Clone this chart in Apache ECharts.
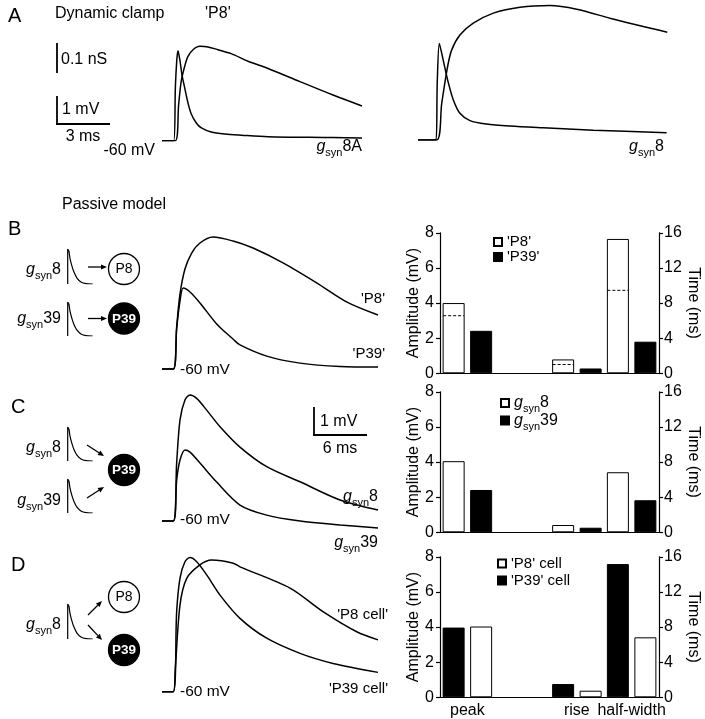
<!DOCTYPE html>
<html><head><meta charset="utf-8">
<script src="https://cdn.jsdelivr.net/npm/echarts@6/dist/echarts.min.js"></script>
<style>html,body{margin:0;padding:0;background:#fff}#c{width:705px;height:719px}</style>
</head><body><div id="c"></div>
<script>
// ===================== DATA =====================
// Panel A (dynamic clamp) — [time ms, value]; V in mV above -60 mV, G in nS
const aLeftV  = [[0,0],[0.77,0],[0.96,1.29],[1.11,2.13],[1.31,2.66],[1.50,3.01],[1.79,3.25],[2.18,3.37],[2.65,3.35],[3.23,3.25],[3.99,3.11],[4.96,2.84],[6.12,2.58],[7.96,2.11],[9.87,1.63],[11.54,1.24]];
const aLeftG  = [[0,0],[0.68,0],[0.77,0.182],[0.85,0.275],[0.92,0.310],[1.04,0.275],[1.15,0.228],[1.31,0.182],[1.50,0.130],[1.69,0.092],[1.98,0.061],[2.27,0.044],[2.84,0.030],[3.62,0.023],[4.58,0.019],[6.12,0.014],[9.87,0.011],[11.54,0.009]];
const aRightV = [[0,0],[1.08,0],[1.37,1.31],[1.69,2.56],[1.94,3.21],[2.42,3.75],[3.19,4.17],[4.35,4.53],[5.89,4.74],[7.62,4.80],[9.16,4.67],[11.08,4.35],[13.0,4.05],[14.39,3.85]];
const aRightG = [[0,0],[1.04,0],[1.11,0.196],[1.23,0.333],[1.37,0.299],[1.56,0.247],[1.75,0.198],[2.04,0.138],[2.42,0.092],[3.0,0.067],[3.96,0.055],[5.31,0.048],[7.23,0.042],[10.12,0.034],[14.35,0.025]];
// Panels B-D passive model traces — [time ms, mV above -60 mV]
const bP8  = [[0,0],[1.28,0],[1.66,1.50],[2.04,2.68],[2.60,3.57],[3.36,4.14],[4.30,4.50],[5.78,4.71],[8.04,4.57],[10.31,4.32],[13.70,3.79],[17.55,3.07],[20.95,2.39],[24.46,1.93]];
const bP39 = [[0,0],[1.28,0],[1.66,1.43],[2.04,2.43],[2.41,2.89],[3.17,2.75],[4.30,2.36],[6.19,1.61],[8.04,1.07],[8.83,0.86],[11.86,0.46],[15.63,0.21],[20.16,0.09],[24.46,0.07]];
const cG8  = [[0,0],[1.28,0],[1.66,2.07],[2.04,3.61],[2.60,4.32],[3.17,4.50],[3.93,4.38],[5.06,3.96],[6.57,3.37],[8.83,2.64],[11.86,1.94],[15.63,1.40],[20.16,0.75],[24.46,0.39]];
const cG39 = [[0,0],[1.28,0],[1.66,1.46],[2.04,2.18],[2.60,2.54],[3.17,2.46],[4.30,2.07],[6.19,1.39],[8.83,0.57],[11.86,0.21],[15.63,0],[20.16,-0.14],[24.46,-0.25]];
const dP8cell  = [[0,0],[1.28,0],[1.50,0.8],[2.04,3.10],[2.80,4.05],[4.30,4.53],[5.63,4.70],[8.07,4.59],[8.83,4.46],[14.50,3.70],[18.23,2.86],[22.05,2.14],[24.46,1.85]];
const dP39cell = [[0,0],[1.28,0],[1.66,2.86],[2.04,4.06],[2.60,4.64],[3.17,4.79],[3.93,4.64],[5.06,4.17],[6.57,3.45],[8.83,2.62],[11.86,1.91],[15.63,1.37],[19.37,1.01],[24.46,0.69]];
// Schematic conductance waveform (normalised time, normalised g)
const iconTrace = [[0,0],[0,1],[0.05,0.94],[0.09,0.74],[0.17,0.51],[0.25,0.34],[0.37,0.17],[0.53,0.06],[0.73,0.01],[1,0]];
// Bar charts
const barCats = ['peak','','rise','half-width'];
const ampTicks = [0,2,4,6,8];
const timeTicks = [0,4,8,12,16];
// B: 'P8' (white) / 'P39' (black)
const bAmpWhite = [4.0,'-','-','-'],   bAmpBlack = [2.42,'-','-','-'];
const bTimeWhite = ['-','-',1.58,15.3], bTimeBlack = ['-','-',0.55,3.6];
const bDashAmp = [[0,3.28]], bDashTime = [[2,1.0],[3,9.45]];
// C: gsyn8 (white) / gsyn39 (black)
const cAmpWhite = [4.05,'-','-','-'],  cAmpBlack = [2.41,'-','-','-'];
const cTimeWhite = ['-','-',0.83,6.84], cTimeBlack = ['-','-',0.52,3.65];
// D: black first, white second
const dAmpBlack = [3.97,'-','-','-'],  dAmpWhite = [4.03,'-','-','-'];
const dTimeBlack = ['-','-',1.51,15.17], dTimeWhite = ['-','-',0.75,6.83];

// ===================== BUILD =====================
const FONT = "'Liberation Sans', Arial, Helvetica, sans-serif";
const grids = [], xAxes = [], yAxes = [], series = [], graphic = [], legends = [];
const BLACK = '#000';

function traceGrid(box, xMax, yRanges) {
  grids.push(Object.assign({containLabel:false}, box));
  const gi = grids.length - 1;
  xAxes.push({type:'value', gridIndex:gi, min:0, max:xMax, show:false});
  const xi = xAxes.length - 1;
  const yis = yRanges.map(r => { yAxes.push({type:'value', gridIndex:gi, min:r[0], max:r[1], show:false}); return yAxes.length - 1; });
  return {xi, yis};
}
function line(ax, yi, data, w) {
  series.push({type:'line', xAxisIndex:ax.xi, yAxisIndex:ax.yis[yi], data, symbol:'none', smooth:0.3,
    lineStyle:{color:BLACK, width:w||1.5}, silent:true, z:5});
}
// Panel A
const gAL = traceGrid({left:162, top:28.7, width:200, height:112}, 11.54, [[0,4],[0,0.386]]);
line(gAL, 0, aLeftV); line(gAL, 1, aLeftG);
const gAR = traceGrid({left:418, top:0, width:249.3, height:140}, 14.39, [[0,5],[0,0.483]]);
line(gAR, 0, aRightV); line(gAR, 1, aRightG);
// Panels B, C, D
const gB = traceGrid({left:162, top:215, width:216, height:168}, 24.46, [[-0.5,5.5]]);
line(gB, 0, bP8); line(gB, 0, bP39);
const gC = traceGrid({left:162, top:367, width:216, height:168}, 24.46, [[-0.5,5.5]]);
line(gC, 0, cG8); line(gC, 0, cG39);
const gD = traceGrid({left:162, top:537.7, width:216, height:168}, 24.46, [[-0.5,5.5]]);
line(gD, 0, dP8cell); line(gD, 0, dP39cell);
// icons
[[67.7,249,35],[67.7,302,34],[67.7,427,34],[67.7,479,34],[67.7,604,35]].forEach(p => {
  const ax = traceGrid({left:p[0], top:p[1], width:25, height:p[2]}, 1, [[0,1]]);
  series.push({type:'line', xAxisIndex:ax.xi, yAxisIndex:ax.yis[0], data:iconTrace, symbol:'none', smooth:0.2,
    lineStyle:{color:BLACK, width:1.2}, silent:true});
});

// Bar charts
const axLine = {show:true, lineStyle:{color:BLACK, width:1.2}};
function dashRender(params, api) {
  const p = api.coord([api.value(0), api.value(1)]);
  const cx = p[0] - 13.75;
  return {type:'line', shape:{x1:cx-10.5, y1:p[1], x2:cx+10.5, y2:p[1]}, style:{stroke:BLACK, lineWidth:1, lineDash:[3,2]}};
}
function barPanel(top, showLabels, defs, dashAmp, dashTime) {
  grids.push({left:440, top:top, width:219, height:140.5, containLabel:false});
  const gi = grids.length - 1;
  xAxes.push({type:'category', gridIndex:gi, data:barCats, position:'bottom', axisLine:axLine, axisTick:{show:false},
    axisLabel:{show:showLabels, interval:0, fontSize:16, color:BLACK, margin:5, fontFamily:FONT}, splitLine:{show:false}});
  const xa = xAxes.length - 1;
  xAxes.push({type:'category', gridIndex:gi, data:barCats, show:false});
  const xt = xAxes.length - 1;
  yAxes.push({type:'value', gridIndex:gi, min:0, max:8, interval:2, position:'left',
    name:'Amplitude (mV)', nameLocation:'middle', nameRotate:90, nameGap:17,
    nameTextStyle:{fontSize:16, color:BLACK, fontFamily:FONT},
    axisLine:axLine, axisTick:{show:true, length:4, lineStyle:{color:BLACK, width:1.2}},
    axisLabel:{fontSize:16, color:BLACK, margin:6, fontFamily:FONT, formatter:v => ampTicks.includes(v) ? String(v) : ''},
    splitLine:{show:false}});
  const ya = yAxes.length - 1;
  yAxes.push({type:'value', gridIndex:gi, min:0, max:16, interval:4, position:'right',
    name:'Time (ms)', nameLocation:'middle', nameRotate:-90, nameGap:24,
    nameTextStyle:{fontSize:16, color:BLACK, fontFamily:FONT},
    axisLine:axLine, axisTick:{show:true, length:4, lineStyle:{color:BLACK, width:1.2}},
    axisLabel:{fontSize:16, color:BLACK, margin:5, fontFamily:FONT, formatter:v => timeTicks.includes(v) ? String(v) : ''},
    splitLine:{show:false}});
  const yt = yAxes.length - 1;
  defs.forEach(d => {
    const style = d.white ? {color:'#fff', borderColor:BLACK, borderWidth:1} : {color:BLACK, borderColor:BLACK, borderWidth:1};
    series.push({type:'bar', name:d.name, xAxisIndex:xa, yAxisIndex:ya, data:d.amp, barWidth:22, barGap:'25%', itemStyle:style, silent:true, z:2});
    series.push({type:'bar', name:d.name, xAxisIndex:xt, yAxisIndex:yt, data:d.time, barWidth:22, barGap:'25%', itemStyle:style, silent:true, z:2});
  });
  if (dashAmp) series.push({type:'custom', xAxisIndex:xa, yAxisIndex:ya, data:dashAmp, renderItem:dashRender, z:4, silent:true});
  if (dashTime) series.push({type:'custom', xAxisIndex:xt, yAxisIndex:yt, data:dashTime, renderItem:dashRender, z:4, silent:true});
}
barPanel(232.8, false, [
  {name:"'P8'", white:true, amp:bAmpWhite, time:bTimeWhite},
  {name:"'P39'", white:false, amp:bAmpBlack, time:bTimeBlack}], bDashAmp, bDashTime);
barPanel(391.8, false, [
  {name:'gsyn8', white:true, amp:cAmpWhite, time:cTimeWhite},
  {name:'gsyn39', white:false, amp:cAmpBlack, time:cTimeBlack}]);
barPanel(556.8, true, [
  {name:"'P39' cell", white:false, amp:dAmpBlack, time:dTimeBlack},
  {name:"'P8' cell", white:true, amp:dAmpWhite, time:dTimeWhite}]);

const RICH = {
  g:{fontStyle:'italic', fontSize:16, fontFamily:FONT, color:BLACK},
  s:{fontSize:11, fontFamily:FONT, color:BLACK, padding:[12,0,0,0]},
  n:{fontSize:16, fontFamily:FONT, color:BLACK}
};
function legend(names, left, top, fmt, gap) {
  legends.push({data:names, left:left, top:top, orient:'vertical', itemWidth:8, itemHeight:8, itemGap:gap, padding:0,
    icon:'rect', selectedMode:false,
    textStyle:{fontSize:15, color:BLACK, fontFamily:FONT, lineHeight:14, rich:fmt ? RICH : undefined},
    formatter: fmt || (n => n)});
}
legend(["'P8'", "'P39'"], 493, 234.5, null, 0);
legend(['gsyn8','gsyn39'], 500, 395, n => '{g|g}{s|syn}{n|' + n.slice(4) + '}', -2);
legend(["'P8' cell", "'P39' cell"], 497, 556, null, 2);

// ===================== GRAPHIC (text, scale bars, schematic) =====================
function txt(x, y, s, align, size, extra) {
  graphic.push({type:'text', x:x, y:y, silent:true, style:Object.assign({text:s, fontSize:size||16, fontFamily:FONT,
    fill:BLACK, align:align||'left', verticalAlign:'middle'}, extra||{})});
}
function gsyn(x, y, num, align) {
  graphic.push({type:'text', x:x, y:y, silent:true, style:{text:'{g|g}{s|syn}{n|' + num + '}', rich:RICH, fill:BLACK,
    fontSize:16, fontFamily:FONT, align:align||'right', verticalAlign:'middle'}});
}
function seg(x1, y1, x2, y2, w) {
  graphic.push({type:'line', silent:true, shape:{x1, y1, x2, y2}, style:{stroke:BLACK, lineWidth:w||1.8}});
}
function arrow(x1, y1, x2, y2) {
  const dx = x2 - x1, dy = y2 - y1, L = Math.hypot(dx, dy), ux = dx / L, uy = dy / L;
  const bx = x2 - ux * 6, by = y2 - uy * 6;
  seg(x1, y1, bx, by, 1.3);
  graphic.push({type:'polygon', silent:true, shape:{points:[[x2,y2],[bx - uy*2.6, by + ux*2.6],[bx + uy*2.6, by - ux*2.6]]}, style:{fill:BLACK}});
}
function cell(cx, cy, label, filled) {
  graphic.push({type:'circle', silent:true, shape:{cx, cy, r:15.5}, style:{fill:filled ? BLACK : '#fff', stroke:BLACK, lineWidth:1.3}});
  txt(cx, cy + 0.5, label, 'center', filled ? 13.5 : 14, filled ? {fill:'#fff', fontWeight:'bold'} : {});
}
// A
txt(8, 16, 'A', 'left', 20);
txt(55, 14, 'Dynamic clamp');
txt(205, 14, "'P8'");
seg(57, 43, 57, 73); txt(61, 60, '0.1 nS');
seg(57, 96, 57, 124.9); seg(56.1, 124, 110, 124); txt(62, 110, '1 mV'); txt(83, 137, '3 ms', 'center');
txt(155, 151, '-60 mV', 'right');
gsyn(362, 147, '8A'); gsyn(664, 147, '8');
// B
txt(62, 205, 'Passive model');
txt(8, 229, 'B', 'left', 20);
gsyn(61, 269.5, '8'); gsyn(61, 318.5, '39');
arrow(88, 267, 107, 267); arrow(88, 318.5, 107, 318.5);
cell(124, 269, 'P8', false); cell(124, 318.5, 'P39', true);
txt(385, 299, "'P8'", 'right', 15); txt(385, 354, "'P39'", 'right', 15);
txt(180, 370, '-60 mV', 'left', 15.5);
// C
txt(11, 407, 'C', 'left', 20);
gsyn(61, 447.5, '8'); gsyn(61, 501, '39');
arrow(87, 445, 104, 456); arrow(87, 498, 104, 487);
cell(124, 470, 'P39', true);
seg(314, 407, 314, 435.9); seg(313.1, 435, 367, 435); txt(320, 422, '1 mV'); txt(340, 449, '6 ms', 'center');
gsyn(378, 497, '8'); gsyn(378, 543, '39');
txt(180, 520, '-60 mV', 'left', 15.5);
// D
txt(11, 565, 'D', 'left', 20);
gsyn(61, 625, '8');
arrow(88, 615, 102, 601); arrow(88, 625, 102, 640);
cell(124, 597, 'P8', false); cell(124, 650, 'P39', true);
txt(388, 615, "'P8 cell'", 'right', 15); txt(388, 689, "'P39 cell'", 'right', 15);
txt(180, 692, '-60 mV', 'left', 15.5);

const chart = echarts.init(document.getElementById('c'), null, {renderer:'canvas'});
chart.setOption({
  backgroundColor:'#fff', animation:false,
  textStyle:{fontFamily:FONT},
  grid:grids, xAxis:xAxes, yAxis:yAxes, series:series, legend:legends, graphic:graphic
});
</script></body></html>
